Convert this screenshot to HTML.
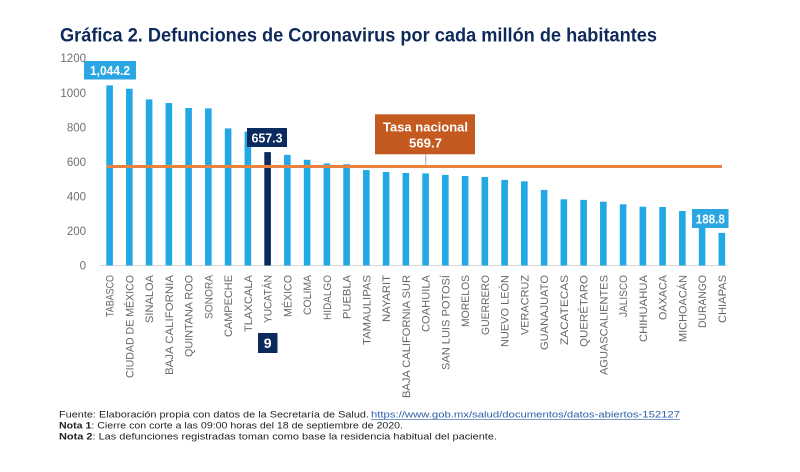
<!DOCTYPE html>
<html>
<head>
<meta charset="utf-8">
<style>
html,body{margin:0;padding:0;background:#fff;}
svg{display:block;}
text{font-family:"Liberation Sans",sans-serif;}
</style>
</head>
<body>
<svg width="800" height="472" viewBox="0 0 800 472" xmlns="http://www.w3.org/2000/svg">
<rect width="800" height="472" fill="#fff"/>
<!-- Title -->
<text x="60" y="41.5" font-size="19.5" font-weight="bold" fill="#0e2a5b" textLength="597" lengthAdjust="spacingAndGlyphs">Gráfica 2. Defunciones de Coronavirus por cada millón de habitantes</text>

<!-- Y axis labels -->
<g font-size="11.5" fill="#707070" text-anchor="end">
<text x="86" y="62">1200</text>
<text x="86" y="97">1000</text>
<text x="86" y="131.5">800</text>
<text x="86" y="166">600</text>
<text x="86" y="200.5">400</text>
<text x="86" y="235">200</text>
<text x="86" y="269.5">0</text>
</g>

<!-- axis line -->
<line x1="100" y1="265.5" x2="728" y2="265.5" stroke="#d6d6d6" stroke-width="1"/>

<!-- Bars -->
<g fill="#22a8e4">
<rect x="106.3" y="85.4" width="6.6" height="180.1"/>
<rect x="126.05" y="88.7" width="6.6" height="176.8"/>
<rect x="145.8" y="99.4" width="6.6" height="166.1"/>
<rect x="165.55" y="103.0" width="6.6" height="162.5"/>
<rect x="185.3" y="108.0" width="6.6" height="157.5"/>
<rect x="205.05" y="108.4" width="6.6" height="157.1"/>
<rect x="224.8" y="128.4" width="6.6" height="137.1"/>
<rect x="244.55" y="131.6" width="6.6" height="133.9"/>
<rect x="284.05" y="154.9" width="6.6" height="110.6"/>
<rect x="303.8" y="159.8" width="6.6" height="105.7"/>
<rect x="323.55" y="163.4" width="6.6" height="102.1"/>
<rect x="343.3" y="164.2" width="6.6" height="101.3"/>
<rect x="363.05" y="170.1" width="6.6" height="95.4"/>
<rect x="382.8" y="172.0" width="6.6" height="93.5"/>
<rect x="402.55" y="173.0" width="6.6" height="92.5"/>
<rect x="422.3" y="173.4" width="6.6" height="92.1"/>
<rect x="442.05" y="174.9" width="6.6" height="90.6"/>
<rect x="461.8" y="176.0" width="6.6" height="89.5"/>
<rect x="481.55" y="177.0" width="6.6" height="88.5"/>
<rect x="501.3" y="179.9" width="6.6" height="85.6"/>
<rect x="521.05" y="181.3" width="6.6" height="84.2"/>
<rect x="540.8" y="189.9" width="6.6" height="75.6"/>
<rect x="560.55" y="199.3" width="6.6" height="66.2"/>
<rect x="580.3" y="199.9" width="6.6" height="65.6"/>
<rect x="600.05" y="201.7" width="6.6" height="63.8"/>
<rect x="619.8" y="204.3" width="6.6" height="61.2"/>
<rect x="639.55" y="206.7" width="6.6" height="58.8"/>
<rect x="659.3" y="207.0" width="6.6" height="58.5"/>
<rect x="679.05" y="211.0" width="6.6" height="54.5"/>
<rect x="698.8" y="213.7" width="6.6" height="51.8"/>
<rect x="718.55" y="232.9" width="6.6" height="32.6"/>
</g>
<rect x="264.3" y="152.1" width="6.6" height="113.4" fill="#0b2a5e"/>

<!-- National rate line -->
<line x1="425.7" y1="154.3" x2="425.7" y2="166" stroke="#a8a8a8" stroke-width="1"/>
<line x1="107" y1="166.5" x2="722" y2="166.5" stroke="#e8823e" stroke-width="3"/>

<!-- Tasa nacional box -->
<rect x="375" y="114.3" width="100" height="40" fill="#c45a20"/>
<text x="425.5" y="131.7" font-size="13" font-weight="bold" fill="#fff" text-anchor="middle" textLength="85" lengthAdjust="spacingAndGlyphs">Tasa nacional</text>
<text x="425.5" y="147.7" font-size="13" font-weight="bold" fill="#fff" text-anchor="middle" textLength="33" lengthAdjust="spacingAndGlyphs">569.7</text>

<!-- value boxes -->
<rect x="84" y="61" width="52" height="18.5" fill="#2aa6e2"/>
<text x="110" y="75" font-size="12.5" font-weight="bold" fill="#fff" text-anchor="middle" textLength="40" lengthAdjust="spacingAndGlyphs">1,044.2</text>

<rect x="247" y="128" width="40" height="19" fill="#0b2a5e"/>
<text x="267" y="142.5" font-size="12.5" font-weight="bold" fill="#fff" text-anchor="middle" textLength="31" lengthAdjust="spacingAndGlyphs">657.3</text>

<rect x="692" y="209" width="36.5" height="19" fill="#2aa6e2"/>
<text x="710.3" y="223.5" font-size="12.5" font-weight="bold" fill="#fff" text-anchor="middle" textLength="29" lengthAdjust="spacingAndGlyphs">188.8</text>

<rect x="258" y="333" width="19.5" height="20" fill="#0b2a5e"/>
<text x="267.7" y="348" font-size="14" font-weight="bold" fill="#fff" text-anchor="middle">9</text>

<!-- Category labels -->
<g font-size="11" fill="#686868" text-anchor="end">
<text transform="translate(113.6,275) rotate(-90)" textLength="42" lengthAdjust="spacingAndGlyphs">TABASCO</text>
<text transform="translate(133.35,275) rotate(-90)" textLength="103" lengthAdjust="spacingAndGlyphs">CIUDAD DE MÉXICO</text>
<text transform="translate(153.1,275) rotate(-90)" textLength="48" lengthAdjust="spacingAndGlyphs">SINALOA</text>
<text transform="translate(172.85,275) rotate(-90)" textLength="100" lengthAdjust="spacingAndGlyphs">BAJA CALIFORNIA</text>
<text transform="translate(192.6,275) rotate(-90)" textLength="82" lengthAdjust="spacingAndGlyphs">QUINTANA ROO</text>
<text transform="translate(212.35,275) rotate(-90)" textLength="44" lengthAdjust="spacingAndGlyphs">SONORA</text>
<text transform="translate(232.1,275) rotate(-90)" textLength="62" lengthAdjust="spacingAndGlyphs">CAMPECHE</text>
<text transform="translate(251.85,275) rotate(-90)" textLength="57" lengthAdjust="spacingAndGlyphs">TLAXCALA</text>
<text transform="translate(271.6,275) rotate(-90)" textLength="48" lengthAdjust="spacingAndGlyphs">YUCATÁN</text>
<text transform="translate(291.35,275) rotate(-90)" textLength="42" lengthAdjust="spacingAndGlyphs">MÉXICO</text>
<text transform="translate(311.1,275) rotate(-90)" textLength="40" lengthAdjust="spacingAndGlyphs">COLIMA</text>
<text transform="translate(330.85,275) rotate(-90)" textLength="45" lengthAdjust="spacingAndGlyphs">HIDALGO</text>
<text transform="translate(350.6,275) rotate(-90)" textLength="44" lengthAdjust="spacingAndGlyphs">PUEBLA</text>
<text transform="translate(370.35,275) rotate(-90)" textLength="70" lengthAdjust="spacingAndGlyphs">TAMAULIPAS</text>
<text transform="translate(390.1,275) rotate(-90)" textLength="47" lengthAdjust="spacingAndGlyphs">NAYARIT</text>
<text transform="translate(409.85,275) rotate(-90)" textLength="123" lengthAdjust="spacingAndGlyphs">BAJA CALIFORNIA SUR</text>
<text transform="translate(429.6,275) rotate(-90)" textLength="57" lengthAdjust="spacingAndGlyphs">COAHUILA</text>
<text transform="translate(449.35,275) rotate(-90)" textLength="95" lengthAdjust="spacingAndGlyphs">SAN LUIS POTOSÍ</text>
<text transform="translate(469.1,275) rotate(-90)" textLength="52" lengthAdjust="spacingAndGlyphs">MORELOS</text>
<text transform="translate(488.85,275) rotate(-90)" textLength="60" lengthAdjust="spacingAndGlyphs">GUERRERO</text>
<text transform="translate(508.6,275) rotate(-90)" textLength="72" lengthAdjust="spacingAndGlyphs">NUEVO LEÓN</text>
<text transform="translate(528.35,275) rotate(-90)" textLength="60" lengthAdjust="spacingAndGlyphs">VERACRUZ</text>
<text transform="translate(548.1,275) rotate(-90)" textLength="75" lengthAdjust="spacingAndGlyphs">GUANAJUATO</text>
<text transform="translate(567.85,275) rotate(-90)" textLength="70" lengthAdjust="spacingAndGlyphs">ZACATECAS</text>
<text transform="translate(587.6,275) rotate(-90)" textLength="72" lengthAdjust="spacingAndGlyphs">QUERÉTARO</text>
<text transform="translate(607.35,275) rotate(-90)" textLength="100" lengthAdjust="spacingAndGlyphs">AGUASCALIENTES</text>
<text transform="translate(627.1,275) rotate(-90)" textLength="42" lengthAdjust="spacingAndGlyphs">JALISCO</text>
<text transform="translate(646.85,275) rotate(-90)" textLength="67" lengthAdjust="spacingAndGlyphs">CHIHUAHUA</text>
<text transform="translate(666.6,275) rotate(-90)" textLength="45" lengthAdjust="spacingAndGlyphs">OAXACA</text>
<text transform="translate(686.35,275) rotate(-90)" textLength="67" lengthAdjust="spacingAndGlyphs">MICHOACÁN</text>
<text transform="translate(706.1,275) rotate(-90)" textLength="53" lengthAdjust="spacingAndGlyphs">DURANGO</text>
<text transform="translate(725.85,275) rotate(-90)" textLength="48" lengthAdjust="spacingAndGlyphs">CHIAPAS</text>
</g>

<!-- Footnotes -->
<g font-size="9.5" fill="#222">
<text x="59" y="417.3" textLength="310" lengthAdjust="spacingAndGlyphs">Fuente: Elaboración propia con datos de la Secretaría de Salud.</text>
<text x="371" y="417.3" fill="#2a5ea8" textLength="309" lengthAdjust="spacingAndGlyphs">https://www.gob.mx/salud/documentos/datos-abiertos-152127</text>
<line x1="371" y1="419.3" x2="680" y2="419.3" stroke="#2a5ea8" stroke-width="0.7"/>
<text x="59" y="428.3" textLength="344" lengthAdjust="spacingAndGlyphs"><tspan font-weight="bold">Nota 1</tspan>: Cierre con corte a las 09:00 horas del 18 de septiembre de 2020.</text>
<text x="59" y="439.3" textLength="438" lengthAdjust="spacingAndGlyphs"><tspan font-weight="bold">Nota 2</tspan>: Las defunciones registradas toman como base la residencia habitual del paciente.</text>
</g>
</svg>
</body>
</html>
